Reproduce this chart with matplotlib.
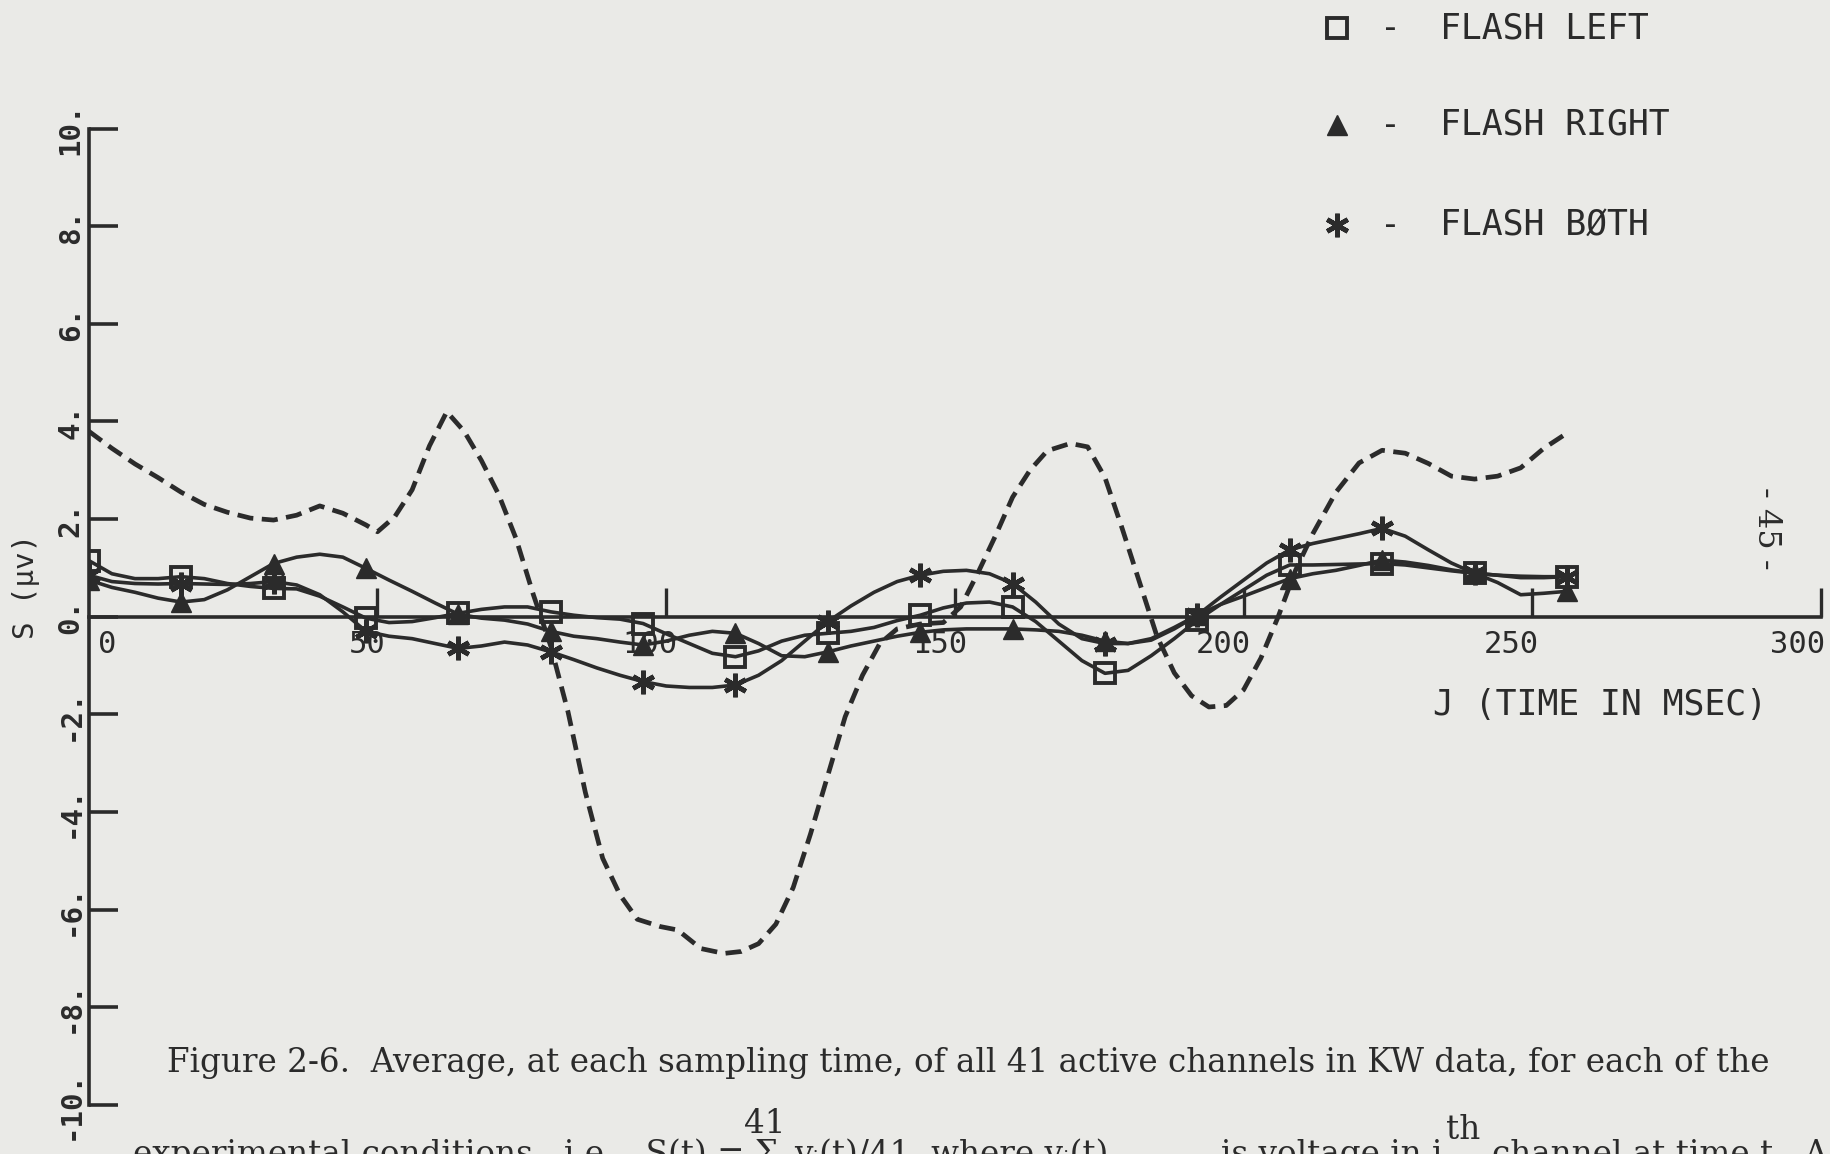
import matplotlib
matplotlib.use("Agg")
import matplotlib.pyplot as plt
from matplotlib.lines import Line2D
from matplotlib.transforms import offset_copy

time_ms = list(range(0, 257, 4))
flash_left = [1.15, 0.88, 0.78, 0.78, 0.82, 0.78, 0.68, 0.62, 0.58, 0.57, 0.42, 0.20, -0.03,
              -0.12, -0.10, -0.02, 0.07, 0.15, 0.20, 0.20, 0.10, 0.03, -0.02, -0.05, -0.14,
              -0.35, -0.55, -0.75, -0.82, -0.70, -0.50, -0.38, -0.34, -0.30, -0.22, -0.08,
              0.03, 0.18, 0.28, 0.30, 0.20, -0.10, -0.50, -0.90, -1.16, -1.10, -0.80, -0.45,
              -0.07, 0.25, 0.55, 0.85, 1.06, 1.06, 1.07, 1.08, 1.09, 1.06, 1.00, 0.94, 0.89,
              0.85, 0.80, 0.80, 0.82]
flash_right = [0.75, 0.60, 0.50, 0.38, 0.30, 0.35, 0.55, 0.82, 1.09, 1.22, 1.28, 1.22, 0.99,
               0.75, 0.52, 0.28, 0.05, -0.03, -0.07, -0.15, -0.30, -0.40, -0.45, -0.52, -0.58,
               -0.50, -0.38, -0.30, -0.34, -0.55, -0.80, -0.82, -0.72, -0.60, -0.50, -0.40,
               -0.32, -0.27, -0.25, -0.25, -0.25, -0.27, -0.30, -0.38, -0.50, -0.55, -0.45,
               -0.22, 0.03, 0.25, 0.42, 0.60, 0.78, 0.88, 0.95, 1.05, 1.16, 1.12, 1.05, 0.96,
               0.89, 0.70, 0.45, 0.48, 0.52]
flash_both = [0.85, 0.72, 0.68, 0.67, 0.68, 0.67, 0.66, 0.68, 0.72, 0.65, 0.45, 0.10, -0.30,
              -0.40, -0.45, -0.55, -0.65, -0.60, -0.52, -0.58, -0.72, -0.88, -1.05, -1.20,
              -1.33, -1.42, -1.45, -1.45, -1.40, -1.20, -0.90, -0.50, -0.10, 0.22, 0.50, 0.72,
              0.85, 0.93, 0.95, 0.88, 0.68, 0.30, -0.15, -0.45, -0.55, -0.55, -0.48, -0.25,
              0.03, 0.40, 0.75, 1.10, 1.37, 1.50, 1.60, 1.70, 1.81, 1.65, 1.37, 1.10, 0.89,
              0.85, 0.83, 0.82, 0.82]

# dashed curve (no symbols)
dashed_t = [0, 4, 8, 12, 16, 20, 24, 28, 32, 36, 40, 44, 48, 50, 53, 56, 59, 62, 65, 68, 71,
            74, 77, 80, 83, 86, 89, 92, 95, 99, 102, 106, 110, 113, 116, 119, 122, 125, 128,
            131, 134, 137, 140, 144, 148, 151, 154, 157, 160, 163, 166, 170, 173, 176, 179,
            182, 185, 188, 191, 194, 197, 200, 203, 206, 209, 212, 216, 220, 224, 228, 232,
            236, 240, 244, 248, 252, 256]
dashed_v = [3.80, 3.45, 3.13, 2.85, 2.55, 2.30, 2.14, 2.02, 1.98, 2.08, 2.27, 2.12, 1.88, 1.74,
            2.05, 2.60, 3.50, 4.20, 3.80, 3.20, 2.50, 1.60, 0.45, -0.60, -1.95, -3.60, -4.95,
            -5.70, -6.20, -6.35, -6.42, -6.80, -6.90, -6.86, -6.70, -6.30, -5.55, -4.45, -3.25,
            -2.05, -1.20, -0.55, -0.25, -0.15, -0.12, 0.20, 0.90, 1.65, 2.45, 3.00, 3.40, 3.55,
            3.48, 2.85, 1.80, 0.70, -0.40, -1.15, -1.62, -1.85, -1.82, -1.50, -0.85, 0.00,
            0.95, 1.70, 2.55, 3.15, 3.41, 3.35, 3.14, 2.88, 2.82, 2.88, 3.05, 3.45, 3.76]

x_ticks = [0, 50, 100, 150, 200, 250, 300]
y_ticks = [-10, -8, -6, -4, -2, 0, 2, 4, 6, 8, 10]
y_tick_labels = ["-10.", "-8.", "-6.", "-4.", "-2.", "0.", "2.", "4.", "6.", "8.", "10."]
legend_labels = ["FLASH LEFT", "FLASH RIGHT", "FLASH B\u00d8TH"]

bg = "#eaeae7"
ink = "#2b2b2b"
mono = "DejaVu Sans Mono"

fig = plt.figure(figsize=(18.31, 11.54), dpi=100, facecolor=bg)
ax = fig.add_axes([0.0485, 0.0427, 0.946, 0.8458])
ax.set_facecolor(bg)
ax.set_xlim(0, 300)
ax.set_ylim(-10, 10)

# axes: left spine + x axis through zero, ticks pointing inward
for s in ["top", "right"]:
    ax.spines[s].set_visible(False)
ax.spines["bottom"].set_position(("data", 0))
for s in ["left", "bottom"]:
    ax.spines[s].set_linewidth(2.6)
    ax.spines[s].set_color(ink)

ax.set_xticks(x_ticks[1:])
ax.set_xticklabels([])
ax.tick_params(axis="x", direction="in", length=21, width=2.4, color=ink)
ax.set_yticks(y_ticks)
ax.set_yticklabels(y_tick_labels, rotation=90, va="center", family=mono,
                   fontweight="bold", fontsize=21, color=ink)
ax.tick_params(axis="y", direction="in", length=21, width=2.6, color=ink, pad=3)

# x tick labels sit a little left of their ticks, like the plotter did
label_dx = [18, -10, -16, -15, -20, -21, -23]
for xt, dx in zip(x_ticks, label_dx):
    tr = offset_copy(ax.transData, fig=fig, x=dx, y=-28, units="dots")
    ax.text(xt, 0, str(xt), transform=tr, ha="center", va="center",
            family=mono, fontsize=22, color=ink)

# ------- curves
ax.plot(dashed_t, dashed_v, color=ink, lw=3.4, dashes=(3.4, 1.8))
ax.plot(time_ms, flash_left, color=ink, lw=2.6, marker="s", markevery=4, ms=14,
        mfc="none", mec=ink, mew=2.8)
ax.plot(time_ms, flash_right, color=ink, lw=2.6, marker="^", markevery=4, ms=14,
        mfc=ink, mec=ink)
ax.plot(time_ms, flash_both, color=ink, lw=2.6, marker=(6, 2, 0), markevery=4, ms=17,
        mec=ink, mew=3.4)

# ------- legend drawn as the plotter wrote it
legend_y = [0.9757, 0.8917, 0.805]
legend_markers = [dict(marker="s", mfc="none", mew=2.8, ms=14),
                  dict(marker="^", mfc=ink, mew=1, ms=14),
                  dict(marker=(6, 2, 0), mfc=ink, mew=3.4, ms=17)]
for y, lab, mk in zip(legend_y, legend_labels, legend_markers):
    fig.add_artist(Line2D([0.7302], [y], transform=fig.transFigure, color=ink,
                          mec=ink, linestyle="none", **mk))
    fig.text(0.7592, y, "-", family=mono, fontsize=25, color=ink, ha="center", va="center")
    fig.text(0.7865, y, lab, family=mono, fontsize=25, color=ink, ha="left", va="center")

# axis titles
fig.text(0.7826, 0.389, "J (TIME IN MSEC)", family=mono, fontsize=25, color=ink,
         ha="left", va="center")
fig.text(0.0142, 0.492, "S (\u03bcv)", family=mono, fontsize=21, color=ink,
         rotation=90, ha="center", va="center")
fig.text(0.9650, 0.5425, "- 45 -", family="DejaVu Serif", fontsize=23, color=ink,
         rotation=270, ha="center", va="center")

# ------- caption (second line is cut off by the page edge)
serif = ["DejaVu Serif", "DejaVu Sans"]
cap1 = ("Figure 2-6.  Average, at each sampling time, of all 41 active channels "
        "in KW data, for each of the")
cap2_a = "experimental conditions,  i.e.,  S(t) = \u03a3"
cap2_b = "v\u1d62(t)/41  where v\u1d62(t)"
cap2_c = "is voltage in i"
cap2_d = "channel at time t.  A"

fig.canvas.draw()
renderer = fig.canvas.get_renderer()
px = fig.bbox.width / 1831


def size_for(s, width, size0=20):
    t = fig.text(0, 0, s, family=serif, fontsize=size0)
    w = t.get_window_extent(renderer).width
    t.remove()
    return size0 * width * px / w


def put(x, y, s, size, ha="left"):
    # x, y in reference pixels
    return fig.text(x / 1831, 1 - y / 1154, s, family=serif, fontsize=size, color=ink,
                    ha=ha, va="baseline")


size1 = size_for(cap1, 1769 - 167)
put(167, 1072, cap1, size1)

# second line in the same type, pieces anchored where the scan has them
put(778, 1164, cap2_a, size1, ha="right")
put(794, 1164, cap2_b, size1)
put(1442, 1164, cap2_c, size1, ha="right")
put(1492, 1164, cap2_d, size1)
fig.text(765 / 1831, 1 - 1124 / 1154, "41", family=serif, fontsize=size1,
         color=ink, ha="center", va="center")
fig.text(1446 / 1831, 1 - 1130 / 1154, "th", family=serif, fontsize=size1,
         color=ink, ha="left", va="center")

fig.savefig("out.png", dpi=100, facecolor=bg)
